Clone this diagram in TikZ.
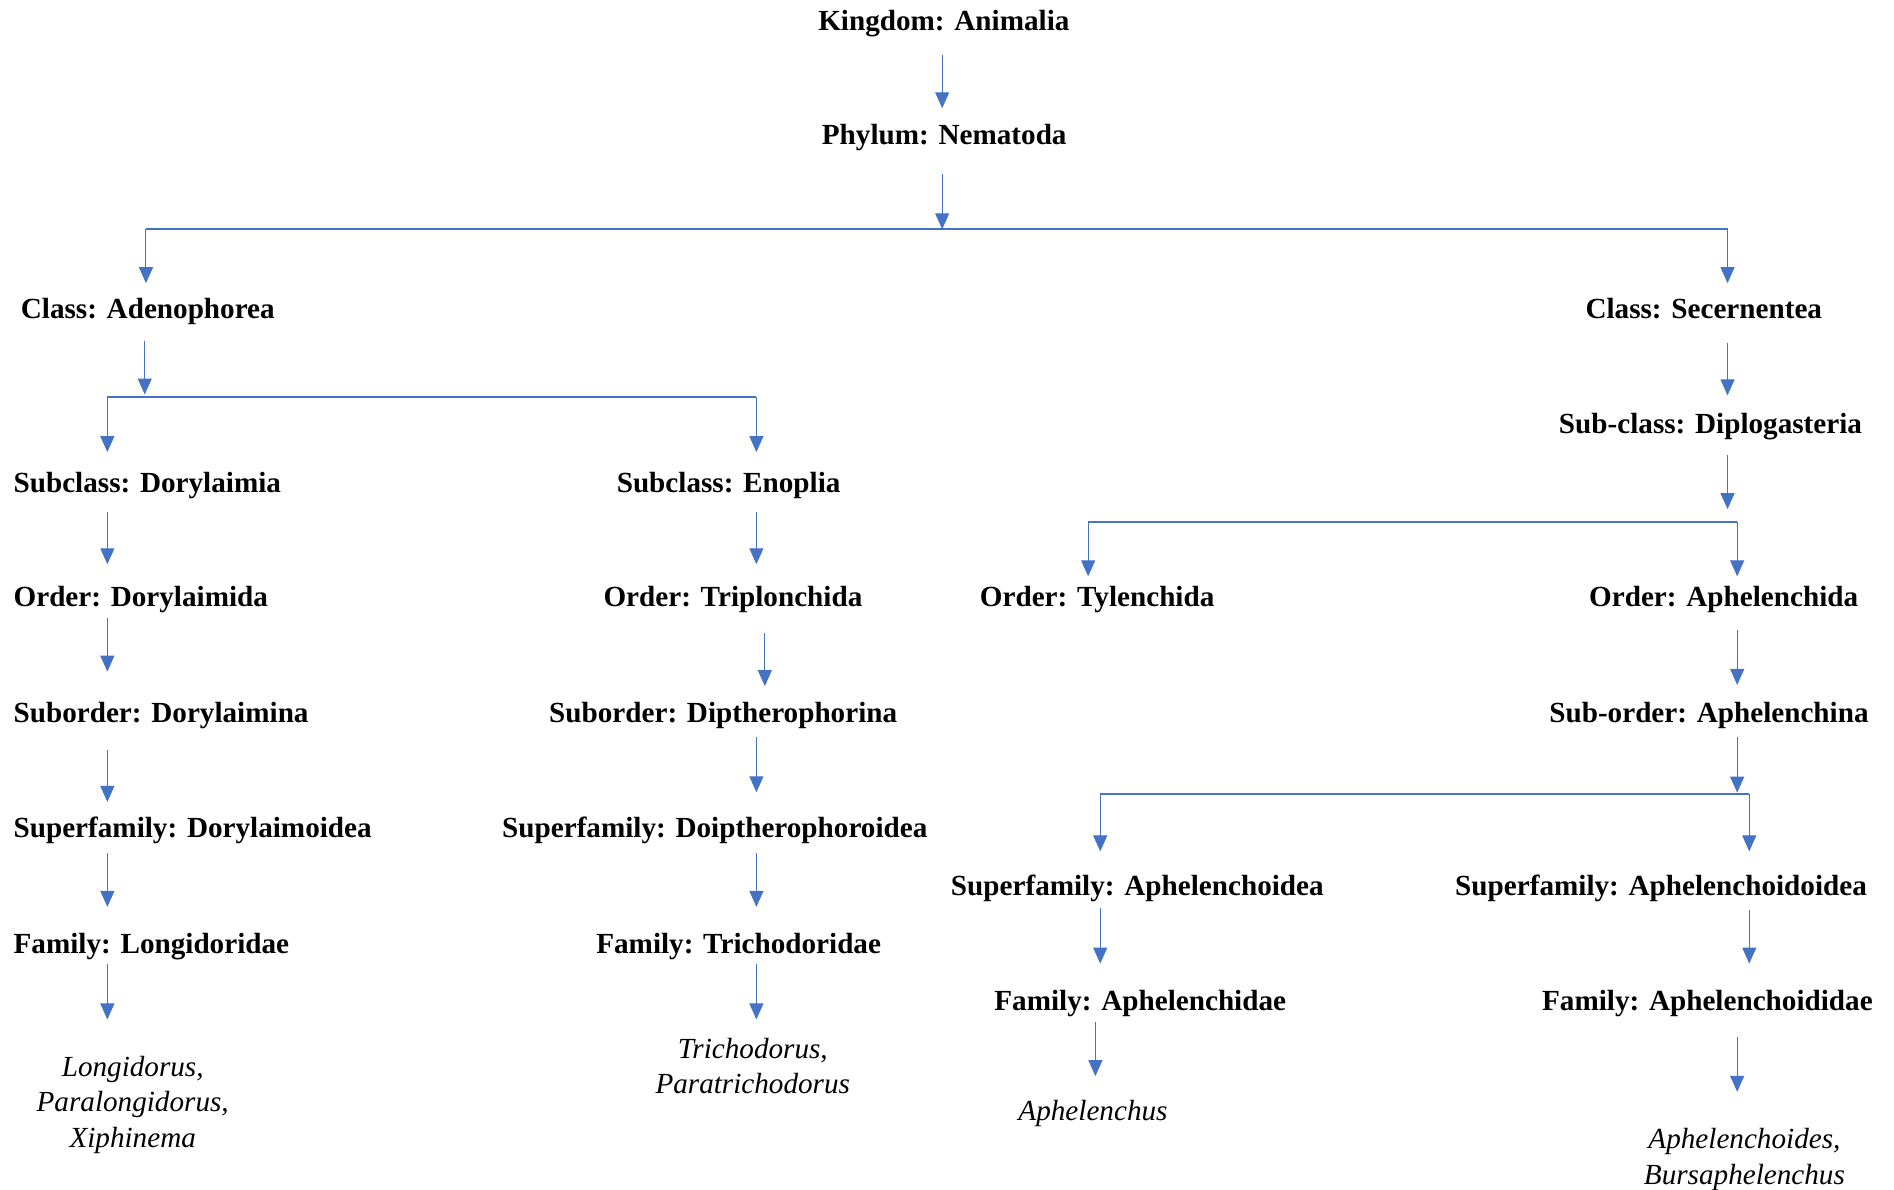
\documentclass[tikz,border=0pt]{standalone}
\usepackage{fontspec}
\setmainfont{Liberation Serif}
\usepackage{tikz}
\usetikzlibrary{arrows.meta}
\tikzset{
	taxon/.style={font=\fontsize{17.2}{21}\selectfont\bfseries, anchor=west, inner sep=0pt, text height=11.4pt, text depth=0pt},
	genus/.style={font=\fontsize{17.2}{21}\selectfont\itshape, align=center, anchor=north, inner sep=0pt},
	arr/.style={draw=linkblue, line width=0.6pt, -{Triangle[length=3.3mm,width=2.9mm]}},
	bar/.style={draw=linkblue, line width=1.3pt},
	gap/.style 2 args={shorten <=#1*0.25mm, shorten >=#2*0.25mm}
}

\begin{document}
\begin{tikzpicture}[x=0.25mm,y=-0.25mm]
	\definecolor{linkblue}{RGB}{68,114,196}
	\useasboundingbox (0,-2) rectangle (1570,984);
	% ranks
	\node (kingdom) at (678,15) [taxon] {Kingdom: Animalia};
	\node (phylum) at (681,110) [taxon] {Phylum: Nematoda};
	\node (adeno) at (17,254) [taxon] {Class: Adenophorea};
	\node (secern) at (1314,254) [taxon] {Class: Secernentea};
	\node (dorylaimia) at (11,398) [taxon] {Subclass: Dorylaimia};
	\node (enoplia) at (511,398) [taxon] {Subclass: Enoplia};
	\node (dorylaimida) at (11,493) [taxon] {Order: Dorylaimida};
	\node (triplon) at (500,493) [taxon] {Order: Triplonchida};
	\node (dorylaimina) at (11,589) [taxon] {Suborder: Dorylaimina};
	\node (dipthero) at (455,589) [taxon] {Suborder: Diptherophorina};
	\node (dorysup) at (11,684) [taxon] {Superfamily: Dorylaimoidea};
	\node (doipsup) at (416,684) [taxon] {Superfamily: Doiptherophoroidea};
	\node (longi) at (11,780) [taxon] {Family: Longidoridae};
	\node (tricho) at (494,780) [taxon] {Family: Trichodoridae};
	\node (diplo) at (1292,349) [taxon] {Sub-class: Diplogasteria};
	\node (tylen) at (812,493) [taxon] {Order: Tylenchida};
	\node (aphelida) at (1317,493) [taxon] {Order: Aphelenchida};
	\node (aphelina) at (1284,589) [taxon] {Sub-order: Aphelenchina};
	\node (aphsup) at (788,732) [taxon] {Superfamily: Aphelenchoidea};
	\node (aphoisup) at (1206,732) [taxon] {Superfamily: Aphelenchoidoidea};
	\node (aphfam) at (824,828) [taxon] {Family: Aphelenchidae};
	\node (aphoifam) at (1278,828) [taxon] {Family: Aphelenchoididae};
	% genera
	\node (longigen) at (110,873) [genus] {Longidorus,\\Paralongidorus,\\Xiphinema};
	\node (trichogen) at (624,858) [genus] {Trichodorus,\\Paratrichodorus};
	\node (aphgen) at (906,910) [genus] {Aphelenchus};
	\node (aphoigen) at (1446,933) [genus] {Aphelenchoides,\\Bursaphelenchus};
	% branch bars
	\coordinate (b1l) at (121,188); \coordinate (b1m) at (781,188); \coordinate (b1r) at (1432,188);
	\coordinate (b2l) at (89,327); \coordinate (b2m) at (120,327); \coordinate (b2r) at (627,327);
	\coordinate (b3l) at (902,431); \coordinate (b3m) at (1432,431); \coordinate (b3r) at (1440,431);
	\coordinate (b4l) at (912,656); \coordinate (b4m) at (1440,656); \coordinate (b4r) at (1450,656);
	\coordinate (c634) at (634,0); \coordinate (c908) at (908,0);
	\draw[bar] (b1l) -- (b1r);
	\draw[bar] (b2l) -- (b2r);
	\draw[bar] (b3l) -- (b3r);
	\draw[bar] (b4l) -- (b4r);
	% arrows
	\draw[arr,gap={20}{14}] (kingdom.south -| b1m) -- (phylum.north -| b1m);
	\draw[arr,gap={24}{0}] (phylum.south -| b1m) -- (b1m);
	\draw[arr,gap={0}{13}] (b1l) -- (adeno.north -| b1l);
	\draw[arr,gap={0}{13}] (b1r) -- (secern.north -| b1r);
	\draw[arr,gap={18}{2}] (adeno.south -| b2m) -- (b2m);
	\draw[arr,gap={0}{17}] (b2l) -- (dorylaimia.north -| b2l);
	\draw[arr,gap={0}{17}] (b2r) -- (enoplia.north -| b2r);
	\draw[arr,gap={16}{19}] (dorylaimia.south -| b2l) -- (dorylaimida.north -| b2l);
	\draw[arr,gap={16}{19}] (enoplia.south -| b2r) -- (triplon.north -| b2r);
	\draw[arr,gap={9}{26}] (dorylaimida.south -| b2l) -- (dorylaimina.north -| b2l);
	\draw[arr,gap={21}{14}] (triplon.south -| c634) -- (dipthero.north -| c634);
	\draw[arr,gap={22}{13}] (dorylaimina.south -| b2l) -- (dorysup.north -| b2l);
	\draw[arr,gap={12}{21}] (dipthero.south -| b2r) -- (doipsup.north -| b2r);
	\draw[arr,gap={13}{22}] (dorysup.south -| b2l) -- (longi.north -| b2l);
	\draw[arr,gap={13}{22}] (doipsup.south -| b2r) -- (tricho.north -| b2r);
	\draw[arr,gap={9}{30}] (longi.south -| b2l) -- (longigen.north -| b2l);
	\draw[arr,gap={9}{15}] (tricho.south -| b2r) -- (trichogen.north -| b2r);
	\draw[arr,gap={20}{15}] (secern.south -| b1r) -- (diplo.north -| b1r);
	\draw[arr,gap={18}{11}] (diplo.south -| b3m) -- (b3m);
	\draw[arr,gap={0}{9}] (b3l) -- (tylen.north -| b3l);
	\draw[arr,gap={0}{9}] (b3r) -- (aphelida.north -| b3r);
	\draw[arr,gap={19}{15}] (aphelida.south -| b4m) -- (aphelina.north -| b4m);
	\draw[arr,gap={12}{1}] (aphelina.south -| b4m) -- (b4m);
	\draw[arr,gap={0}{20}] (b4l) -- (aphsup.north -| b4l);
	\draw[arr,gap={0}{20}] (b4r) -- (aphoisup.north -| b4r);
	\draw[arr,gap={10}{23}] (aphsup.south -| b4l) -- (aphfam.north -| b4l);
	\draw[arr,gap={12}{23}] (aphoisup.south -| b4r) -- (aphoifam.north -| b4r);
	\draw[arr,gap={9}{20}] (aphfam.south -| c908) -- (aphgen.north -| c908);
	\draw[arr,gap={21}{30}] (aphoifam.south -| b4m) -- (aphoigen.north -| b4m);
\end{tikzpicture}
\end{document}
